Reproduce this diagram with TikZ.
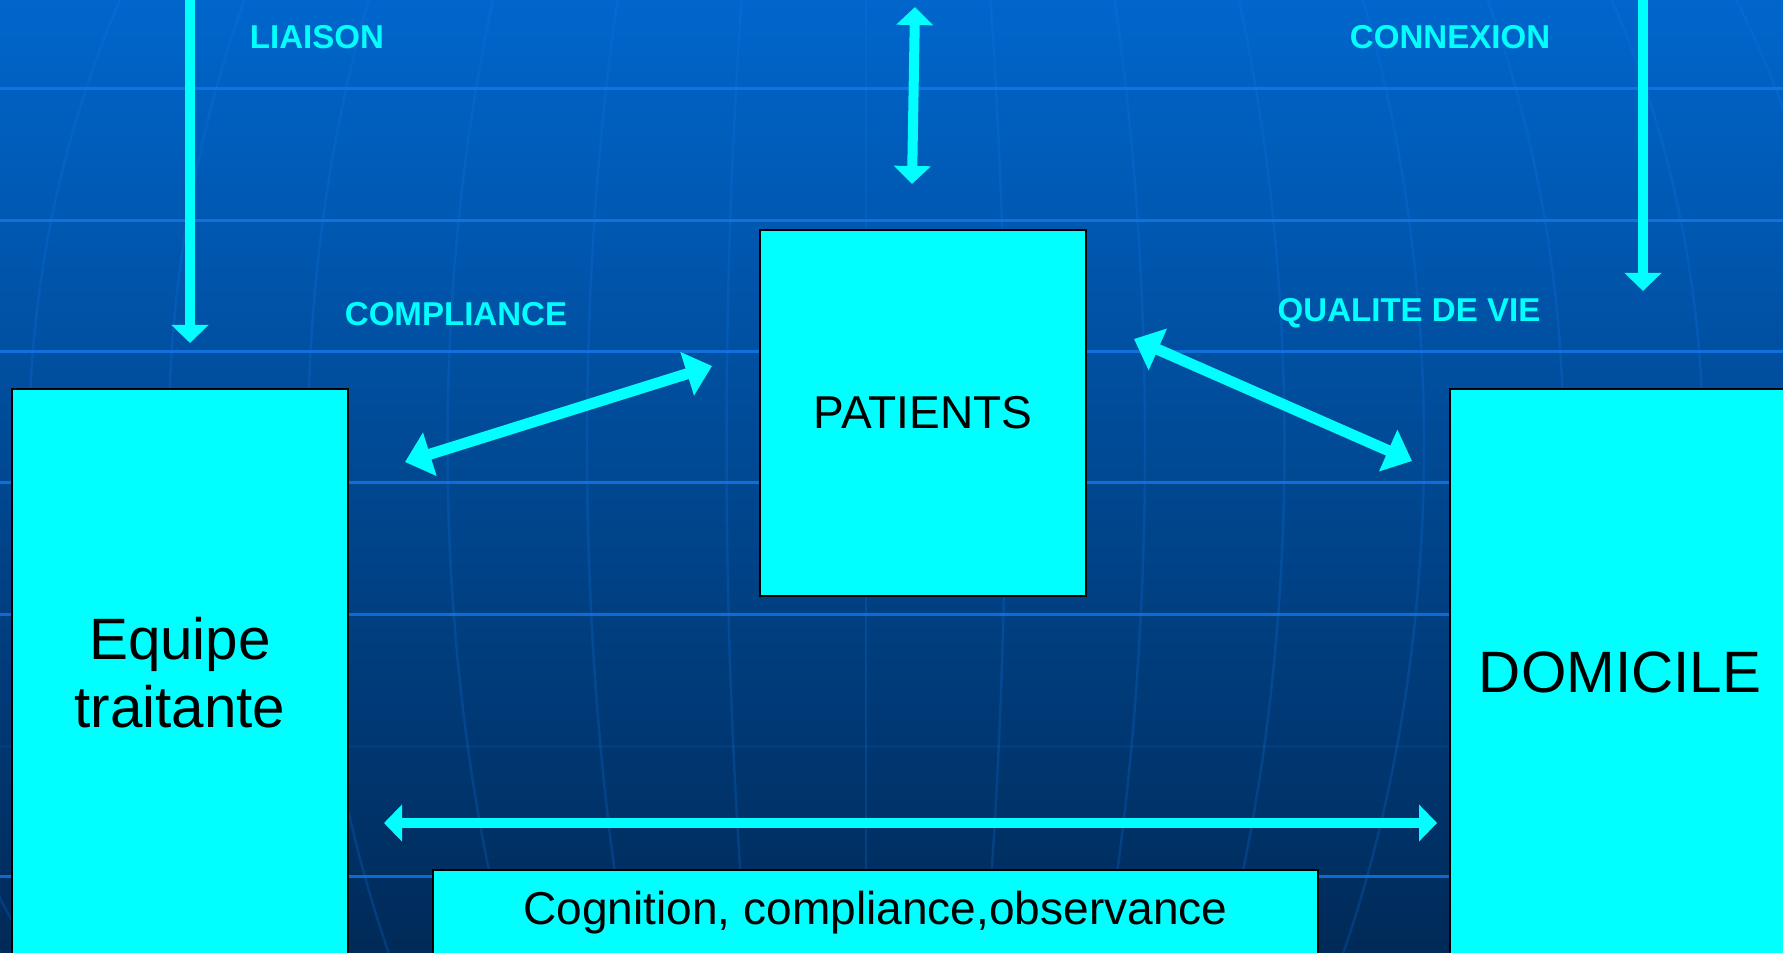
\documentclass[tikz,border=0pt]{standalone}
\usepackage{fontspec}
\setmainfont{Liberation Sans}
\usetikzlibrary{arrows.meta}
\newlength{\shaftwd}
\setlength{\shaftwd}{0.1cm}
\definecolor{aqua}{RGB}{0,255,255}
\definecolor{bgtop}{RGB}{0,102,204}
\definecolor{bgmid}{RGB}{0,80,160}
\definecolor{bgbottom}{RGB}{0,42,88}
\definecolor{gridblue}{RGB}{20,120,235}

\begin{document}
\begin{tikzpicture}[x=0.01cm, y=-0.01cm,
gridline/.style={gridblue, line width=0.03cm, opacity=0.8}, % horizontal lines of the backdrop
meridian/.style={gridblue, line width=0.025cm, opacity=0.22}, % curved lines of the backdrop
box/.style={draw=black, line width=0.6pt, fill=aqua, inner sep=0pt, align=center, font=\fontsize{16.6}{19.3}\selectfont}, % big boxes
smallbox/.style={box, font=\fontsize{13.1}{15}\selectfont}, % boxes with smaller text
tag/.style={text=aqua, inner sep=0pt, anchor=base, font=\bfseries\fontsize{9.4}{11}\selectfont}, % labels on the backdrop
oneway/.style={aqua, line width=\shaftwd, -{Triangle[width=0.36cm, length=0.18cm]}}, % arrow from above
twoway/.style={aqua, line width=\shaftwd, {Triangle[width=0.36cm, length=0.18cm]}-{Triangle[width=0.36cm, length=0.18cm]}}, % straight double arrow
slant/.style={aqua, line width=0.11cm, {Triangle[width=0.44cm, length=0.26cm]}-{Triangle[width=0.44cm, length=0.26cm]}} % slanted double arrow
]

\useasboundingbox (0,0) rectangle (1783,952);
\clip (0,0) rectangle (1783,952);

% backdrop
\fill[top color=bgtop, middle color=bgmid, bottom color=bgbottom] (0,0) rectangle (1783,952);
\foreach \k in {0,1,2,3,4,6}
  \draw[gridline] (0,{89+131.3*\k}) -- (1783,{89+131.3*\k});
\draw[gridline, opacity=0.12] (0,746) -- (1783,746);
\foreach \i in {-7,...,7}
  \draw[meridian] plot[domain=-10:962, samples=40, variable=\t]
    ({866+\i*139.5*sqrt(1-((\t-445)/981)*((\t-445)/981))}, \t);

\node[box, minimum width=3.36cm, minimum height=5.67cm] (equipe) at (180,672.5) {Equipe\\traitante};
\node[box, minimum width=3.40cm, minimum height=5.67cm] (domicile) at (1620,672.5) {DOMICILE};
\node[smallbox, minimum width=3.26cm, minimum height=3.66cm] (patients) at (923,413) {PATIENTS};
\node[smallbox, minimum width=8.85cm, minimum height=0.86cm] (cognition) at (875.5,913) {Cognition, compliance,observance};

\node[tag] (liaison) at (317,49) {LIAISON};
\node[tag] (connexion) at (1450,49) {CONNEXION};
\node[tag] (compliance) at (456,326) {COMPLIANCE};
\node[tag] (qualite) at (1409,321) {QUALITE DE VIE};

\coordinate (liaisontop) at (190,-10);
\coordinate (liaisonend) at (190,343);
\coordinate (connextop) at (1643,-10);
\coordinate (connexend) at (1643,291);
\coordinate (patup) at (915,7);
\coordinate (patdown) at (912,184);
\coordinate (compa) at (405,462);
\coordinate (compb) at (712,366);
\coordinate (quala) at (1134,339);
\coordinate (qualb) at (1412,461);
\coordinate (cogna) at (384,823);
\coordinate (cognb) at (1437,823);

\draw[oneway] (liaisontop) -- (liaisonend);
\draw[oneway] (connextop) -- (connexend);
\draw[twoway] (patup) -- (patdown);
\draw[slant] (compa) -- (compb);
\draw[slant] (quala) -- (qualb);
\draw[twoway] (cogna) -- (cognb);

\end{tikzpicture}
\end{document}
